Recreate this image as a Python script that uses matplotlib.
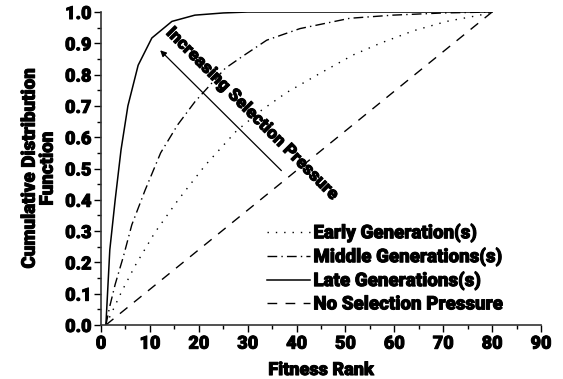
import numpy as np
import matplotlib
matplotlib.use("Agg")
import matplotlib.pyplot as plt
import matplotlib.patheffects as pe
from matplotlib.ticker import MultipleLocator, FormatStrFormatter

plt.rcParams['font.family'] = ['Roboto', 'Liberation Sans', 'DejaVu Sans']
W = 'black'
heavy = [pe.withStroke(linewidth=0.7, foreground='black')]

# values
rank_early = [1, 4.2, 7.0, 11.0, 15.8, 21.3, 27.7, 32.9, 38.0, 44.8, 51.6, 57.1, 63.9, 70.7, 77.5, 80]
cdf_early = [0, 0.106, 0.19, 0.295, 0.40, 0.51, 0.62, 0.687, 0.743, 0.804, 0.863, 0.90, 0.94, 0.97, 0.99, 1.0]

rank_middle = [1, 1.8, 2.9, 4.6, 6.3, 9.0, 12.2, 15.7, 19.2, 25.4, 29.1, 33.9, 40.7, 50.9, 59.7, 70, 80]
cdf_middle = [0, 0.06, 0.13, 0.22, 0.32, 0.43, 0.55, 0.64, 0.713, 0.82, 0.86, 0.91, 0.947, 0.98, 0.99, 0.997, 1.0]

rank_late = [1, 1.2, 1.8, 2.9, 4.1, 5.5, 7.6, 10.4, 14.5, 19.2, 25, 30, 40, 80]
cdf_late = [0, 0.06, 0.24, 0.40, 0.56, 0.70, 0.83, 0.917, 0.97, 0.99, 0.997, 1.0, 1.0, 1.0]

rank_none = [1, 80]
cdf_none = [0, 1.0]

labels = ['Early Generation(s)', 'Middle Generations(s)', 'Late Generations(s)', 'No Selection Pressure']

arrow_tail = (37.3, 0.487)
arrow_head = (11.7, 0.884)

fig = plt.figure(figsize=(5.63, 3.79), dpi=100)
ax = fig.add_axes([0.1794, 0.1425, 0.7815, 0.8258])

ax.plot(rank_early, cdf_early, color='black', lw=1.0, ls=(0, (1, 5)), label=labels[0])
ax.plot(rank_middle, cdf_middle, color='black', lw=1.0, ls=(0, (7, 3, 1, 3)), label=labels[1])
ax.plot(rank_late, cdf_late, color='black', lw=1.1, ls='-', label=labels[2])
ax.plot(rank_none, cdf_none, color='black', lw=1.0, ls=(0, (7, 6)), label=labels[3])

ax.annotate('', xy=arrow_head, xytext=arrow_tail,
            arrowprops=dict(arrowstyle='-|>', color='black', lw=0.9, mutation_scale=9))
ax.text(31.0, 0.675, 'Increasing Selection Pressure', rotation=-45, ha='center', va='center',
        fontsize=12.5, fontweight=W, rotation_mode='anchor', path_effects=heavy)

ax.set_xlim(0, 90)
ax.set_ylim(0, 1.0)
ax.xaxis.set_major_locator(MultipleLocator(10))
ax.xaxis.set_minor_locator(MultipleLocator(5))
ax.yaxis.set_major_locator(MultipleLocator(0.1))
ax.yaxis.set_minor_locator(MultipleLocator(0.05))
ax.yaxis.set_major_formatter(FormatStrFormatter('%.1f'))
ax.tick_params(which='major', direction='out', length=5, width=1.0, labelsize=13, pad=2)
ax.tick_params(which='minor', direction='out', length=3, width=1.0)
for lab in ax.get_xticklabels() + ax.get_yticklabels():
    lab.set_fontweight(W)
    lab.set_path_effects(heavy)

for s in ['top', 'right']:
    ax.spines[s].set_visible(False)
for s in ['left', 'bottom']:
    ax.spines[s].set_linewidth(1.2)
    ax.spines[s].set_color('#333333')

ax.set_xlabel('Fitness Rank', fontsize=13, fontweight=W, labelpad=6, path_effects=heavy)
ax.set_ylabel('Cumulative Distribution\nFunction', fontsize=13.5, fontweight=W, labelpad=6,
              linespacing=1.0, path_effects=heavy)

leg = ax.legend(loc='lower left', bbox_to_anchor=(0.34, -0.017), frameon=False,
                handlelength=2.25, handletextpad=0.2, labelspacing=0.28,
                prop=dict(weight=W, size=13.5))
for t in leg.get_texts():
    t.set_path_effects(heavy)

fig.savefig('out.png', dpi=100)
